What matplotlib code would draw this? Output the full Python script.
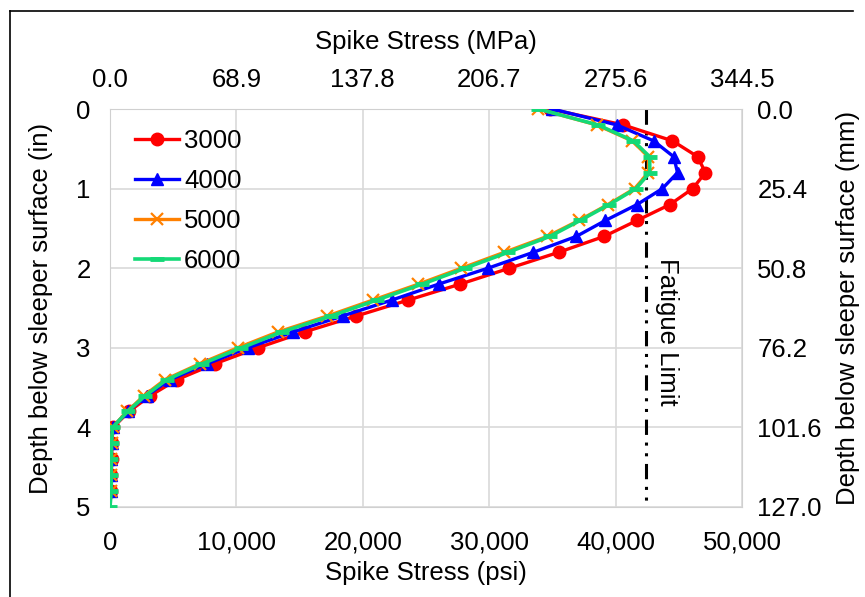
import matplotlib
matplotlib.use("Agg")
from matplotlib import pyplot as plt
from matplotlib.lines import Line2D
from matplotlib import font_manager

names = {f.name for f in font_manager.fontManager.ttflist}
if 'Liberation Sans Narrow' in names:
    plt.rcParams['font.family'] = ['Liberation Sans Narrow', 'DejaVu Sans']
    FS = 21.5
else:
    plt.rcParams['font.family'] = ['Liberation Sans', 'DejaVu Sans']
    FS = 18.5

# depth below sleeper surface (in)
depth = [0.0, 0.2, 0.4, 0.6, 0.8, 1.0, 1.2, 1.4, 1.6, 1.8, 2.0, 2.2, 2.4,
         2.6, 2.8, 3.0, 3.2, 3.4, 3.6, 3.8, 4.0, 4.2, 4.4, 4.6, 4.8]
depth_6000 = depth + [5.0]

# spike stress (psi) per series
stress_3000 = [34800, 40600, 44500, 46500, 47100, 46100, 44300, 41700, 39100,
               35500, 31600, 27700, 23600, 19500, 15400, 11700, 8300, 5300,
               3200, 1500, 250, 130, 120, 110, 100]
stress_4000 = [35000, 40100, 43000, 44600, 44900, 43700, 41700, 39200, 36900,
               33500, 29900, 26000, 22300, 18400, 14500, 10900, 7700, 4750,
               2900, 1400, 200, 120, 110, 100, 100]
stress_5000 = [33900, 38500, 41300, 42600, 42600, 41500, 39400, 37100, 34600,
               31200, 27800, 24400, 20800, 17200, 13300, 10100, 7100, 4350,
               2700, 1350, 200, 120, 110, 100, 100]
stress_6000 = [33900, 38600, 41400, 42700, 42700, 41600, 39500, 37200, 34800,
               31500, 28100, 24700, 21100, 17500, 13600, 10400, 7300, 4500,
               2800, 1400, 200, 120, 110, 100, 100, 0]

fatigue_limit = 42400

psi_ticks = [0, 10000, 20000, 30000, 40000, 50000]
psi_labels = ["0", "10,000", "20,000", "30,000", "40,000", "50,000"]
mpa_labels = ["0.0", "68.9", "137.8", "206.7", "275.6", "344.5"]
in_ticks = [0, 1, 2, 3, 4, 5]
mm_labels = ["0.0", "25.4", "50.8", "76.2", "101.6", "127.0"]

W, H = 865, 597
fig = plt.figure(figsize=(W / 100, H / 100), dpi=100)
# outer chart border: only the top and left edges show in the picture
fy = 1 - 11 / H
fx = 10 / W
fig.lines.append(Line2D([fx, 853 / W], [fy, fy], transform=fig.transFigure,
                        color='black', linewidth=1.2))
fig.lines.append(Line2D([fx, fx], [0, fy], transform=fig.transFigure,
                        color='black', linewidth=1.2))

ax = fig.add_axes([110 / W, 1 - 507 / H, 632 / W, 398 / H])

ax.plot(stress_3000, depth, color='#ff0000', marker='o', markersize=9,
        linewidth=2.4, label='3000', zorder=3)
ax.plot(stress_4000, depth, color='#0000ff', marker='^', markersize=9,
        linewidth=2.4, label='4000', zorder=4)
ax.plot(stress_5000, depth, color='#ff8000', marker='x', markersize=8.5,
        markeredgewidth=1.6, linewidth=2.4, label='5000', zorder=5)
ax.plot(stress_6000, depth_6000, color='#14d977', marker='_', markersize=9.5,
        markeredgewidth=3.5, linewidth=2.6, label='6000', zorder=6)

ax.plot([fatigue_limit, fatigue_limit], [0, 5], color='black', linewidth=2.2,
        linestyle=(0, (5, 2.5, 1, 2.5, 1, 2.5)), zorder=2)
ax.text(44050, 2.8, "Fatigue Limit", rotation=-90,
        ha='center', va='center', fontsize=FS)

ax.set_xlim(0, 50000)
ax.set_ylim(5, 0)
ax.set_xticks(psi_ticks)
ax.set_xticklabels(psi_labels)
ax.set_yticks(in_ticks)
ax.grid(True, color='#d9d9d9', linewidth=1.2)
ax.set_axisbelow(True)
ax.tick_params(axis='x', length=0, labelsize=FS, pad=17)
ax.tick_params(axis='y', length=0, labelsize=FS, pad=14)
for s in ax.spines.values():
    s.set_color('#d0d0d0')
ax.set_xlabel("Spike Stress (psi)", fontsize=FS)
ax.xaxis.set_label_coords(0.5, -0.136)
ax.set_ylabel("Depth below sleeper surface (in)", fontsize=FS)
ax.yaxis.set_label_coords(-0.09, 0.5)

ax_top = ax.twiny()
ax_top.set_xlim(ax.get_xlim())
ax_top.set_xticks(psi_ticks)
ax_top.set_xticklabels(mpa_labels)
ax_top.tick_params(length=0, labelsize=FS, pad=12)
ax_top.set_xlabel("Spike Stress (MPa)", fontsize=FS)
ax_top.xaxis.set_label_coords(0.5, 1.15)

ax_right = ax.twinx()
ax_right.set_ylim(ax.get_ylim())
ax_right.set_yticks(in_ticks)
ax_right.set_yticklabels(mm_labels)
ax_right.tick_params(length=0, labelsize=FS, pad=11)
ax_right.set_ylabel("Depth below sleeper surface (mm)", fontsize=FS)
ax_right.yaxis.set_label_coords(1.149, 0.5)
for a in (ax_top, ax_right):
    for s in a.spines.values():
        s.set_visible(False)

ax.legend(loc='upper left', bbox_to_anchor=(0.04, 0.95), frameon=False,
          fontsize=FS, labelspacing=0.62, handlelength=1.7, handletextpad=0.2,
          borderpad=0, borderaxespad=0)

fig.savefig("out.png", dpi=100)
